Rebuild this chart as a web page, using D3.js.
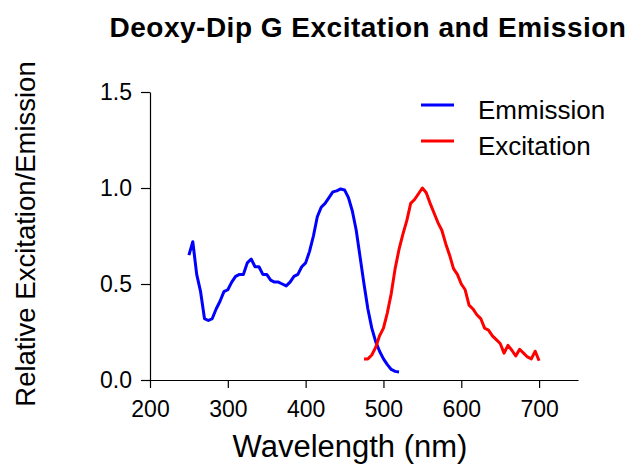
<!DOCTYPE html>
<html>
<head>
<meta charset="utf-8">
<script src="https://cdn.jsdelivr.net/npm/d3@7"></script>
<style>
  body { margin: 0; background: #fff; }
  svg { display: block; font-family: "Liberation Sans", Arial, sans-serif; }
</style>
</head>
<body>
<script>
// emission curve (blue), wavelength in nm and relative value
var emWave = [250,255,260,265,270,275,280,285,290,295,300,305,310,315,320,325,330,335,340,345,
  350,355,360,365,370,375,380,385,390,395,400,405,410,415,420,425,430,435,440,445,
  450,455,460,465,470,475,480,485,490,495,500,505,510,515,520];
var emValue = [0.65,0.72,0.55,0.46,0.32,0.31,0.32,0.37,0.41,0.46,0.47,0.51,0.54,0.55,0.55,0.61,0.63,0.59,0.59,0.55,
  0.55,0.52,0.51,0.51,0.50,0.49,0.51,0.54,0.55,0.59,0.61,0.67,0.75,0.85,0.90,0.92,0.95,0.98,0.985,0.995,
  0.99,0.95,0.88,0.78,0.64,0.50,0.37,0.27,0.20,0.15,0.11,0.08,0.055,0.045,0.042];

// excitation curve (red)
var exWave = [475,480,485,490,495,500,505,510,515,520,525,530,535,540,545,550,555,560,565,570,
  575,580,585,590,595,600,605,610,615,620,625,630,635,640,645,650,655,660,665,670,
  675,680,685,690,695,700];
var exValue = [0.11,0.11,0.13,0.17,0.23,0.27,0.35,0.45,0.58,0.68,0.76,0.83,0.92,0.94,0.97,1.0,0.975,0.92,0.87,0.82,
  0.78,0.71,0.65,0.58,0.55,0.50,0.47,0.39,0.37,0.34,0.32,0.27,0.26,0.23,0.21,0.19,0.14,0.18,0.155,0.125,
  0.16,0.14,0.12,0.11,0.15,0.10];

var xTicks = [200,300,400,500,600,700];
var yTicks = [0,0.5,1.0,1.5];
var seriesNames = ["Emmission","Excitation"];
var seriesColors = ["#0000ff","#ff0000"];

var width = 634, height = 468;

var svg = d3.select("body").append("svg")
  .attr("width", width)
  .attr("height", height);

var x = d3.scaleLinear().domain([200,750]).range([150,578]);
var y = d3.scaleLinear().domain([0,1.5]).range([380,92]);

// axes
var xAxis = svg.append("g")
  .attr("transform","translate(0,380)")
  .call(d3.axisBottom(x).tickValues(xTicks).tickSize(8).tickSizeOuter(0).tickPadding(13));
xAxis.selectAll("text").style("font-size","23px").attr("fill","#000");

var yAxis = svg.append("g")
  .attr("transform","translate(150,0)")
  .call(d3.axisLeft(y).tickValues(yTicks).tickSize(9).tickSizeOuter(0).tickPadding(9).tickFormat(d3.format(".1f")));
yAxis.selectAll("text").style("font-size","23px").attr("fill","#000");

svg.selectAll(".domain, .tick line").attr("stroke","#000").attr("stroke-width",1.2);

// lines
var line = d3.line()
  .x(function(d){ return x(d[0]); })
  .y(function(d){ return y(d[1]); });

var emData = emWave.map(function(w,i){ return [w, emValue[i]]; });
var exData = exWave.map(function(w,i){ return [w, exValue[i]]; });

svg.append("path").datum(emData)
  .attr("fill","none").attr("stroke",seriesColors[0]).attr("stroke-width",3)
  .attr("stroke-linejoin","round")
  .attr("d",line);

svg.append("path").datum(exData)
  .attr("fill","none").attr("stroke",seriesColors[1]).attr("stroke-width",3)
  .attr("stroke-linejoin","round")
  .attr("d",line);

// legend
var legend = svg.selectAll(".legend")
  .data(seriesNames)
  .enter().append("g")
  .attr("class","legend")
  .attr("transform",function(d,i){ return "translate(421," + (105 + i*36) + ")"; });

legend.append("line")
  .attr("x1",0).attr("x2",33).attr("y1",0).attr("y2",0)
  .attr("stroke",function(d,i){ return seriesColors[i]; })
  .attr("stroke-width",3);

legend.append("text")
  .attr("x",57).attr("y",13.7)
  .style("font-size","26px")
  .text(function(d){ return d; });

// titles
svg.append("text")
  .attr("x",368).attr("y",37)
  .attr("text-anchor","middle")
  .style("font-size","28px").style("font-weight","bold")
  .style("letter-spacing","0.5px")
  .text("Deoxy-Dip G Excitation and Emission");

svg.append("text")
  .attr("x",350).attr("y",457)
  .attr("text-anchor","middle")
  .style("font-size","31px")
  .text("Wavelength (nm)");

svg.append("text")
  .attr("transform","translate(35,234) rotate(-90)")
  .attr("text-anchor","middle")
  .style("font-size","27.5px")
  .text("Relative Excitation/Emission");
</script>
</body>
</html>
